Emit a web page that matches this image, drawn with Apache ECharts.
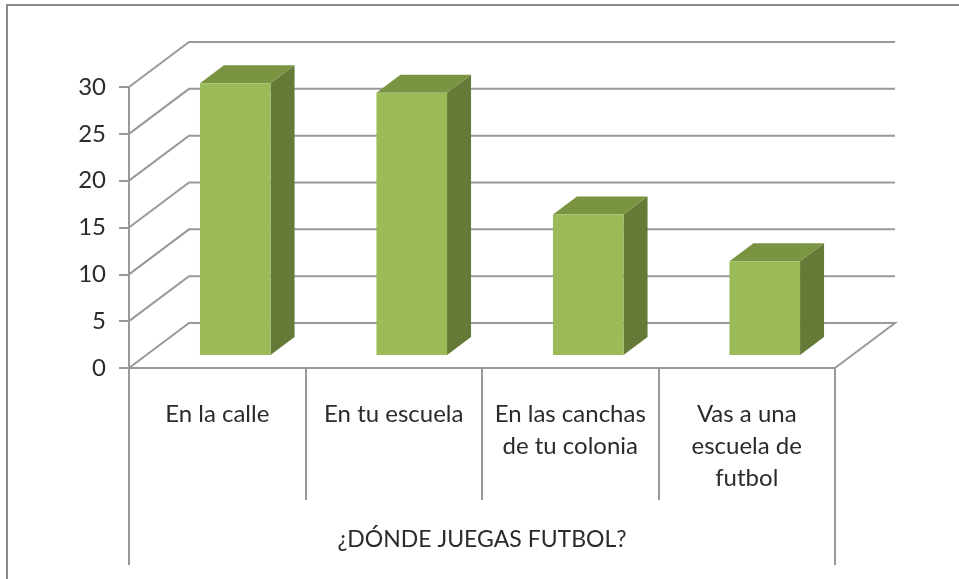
<!DOCTYPE html>
<html>
<head>
<meta charset="utf-8">
<style>html,body{margin:0;padding:0;background:#fff}#c{width:959px;height:579px}</style>
<script src="https://cdn.jsdelivr.net/npm/echarts@6/dist/echarts.min.js"></script>
</head>
<body>
<div id="c"></div>
<script>
const categories = ['En la calle', 'En tu escuela', 'En las canchas\nde tu colonia', 'Vas a una\nescuela de\nfutbol'];
const groupLabel = ['¿DÓNDE JUEGAS FUTBOL?'];
const values = [29, 28, 15, 10];
const yTicks = [0, 5, 10, 15, 20, 25, 30];

const FONT = 'Lato';
const LINE = '#999999';
const FACE = '#9BBB59', TOP = '#7A9441', SIDE = '#647A36';
const WALL_DX = 60, WALL_DY = -45;
const BAR_DX = 24, BAR_DY = -18, BAR_SHIFT_X = 18, BAR_SHIFT_Y = -13, BAR_RATIO = 0.4;

const chart = echarts.init(document.getElementById('c'), null, {renderer: 'canvas'});
chart.setOption({
  animation: false,
  backgroundColor: '#fff',
  grid: {left: 129, right: 124, top: 87, bottom: 211, containLabel: false},
  graphic: [{
    type: 'polyline', silent: true, z: 0,
    shape: {points: [[7, 579], [7, 5], [959, 5]]},
    style: {stroke: '#8a8a8a', lineWidth: 2, fill: null}
  }],
  xAxis: [{
    type: 'category', data: categories, gridIndex: 0, boundaryGap: true,
    axisLine: {show: true, lineStyle: {color: LINE, width: 2}},
    axisTick: {show: true, length: 132, lineStyle: {color: LINE, width: 2}},
    axisLabel: {interval: 0, margin: 30, color: '#2b2b2b', fontFamily: FONT, fontSize: 24, lineHeight: 32, align: 'center', verticalAlign: 'top'}
  }, {
    type: 'category', data: groupLabel, gridIndex: 0, position: 'bottom', offset: 132, boundaryGap: true,
    axisLine: {show: false},
    axisTick: {show: true, length: 65, lineStyle: {color: LINE, width: 2}},
    axisLabel: {interval: 0, margin: 28, color: '#2b2b2b', fontFamily: FONT, fontSize: 23}
  }],
  yAxis: {
    type: 'value', min: 0, max: 30, interval: 5,
    axisLine: {show: true, lineStyle: {color: LINE, width: 2}},
    axisTick: {show: true, length: 10, lineStyle: {color: LINE, width: 2}},
    axisLabel: {margin: 23, color: '#2b2b2b', fontFamily: FONT, fontSize: 24, padding: [2, 0, 0, 0]},
    splitLine: {show: false}
  },
  series: [{
    type: 'custom', name: 'walls', xAxisIndex: 0, yAxisIndex: 0, z: 1, silent: true,
    coordinateSystem: 'cartesian2d',
    data: yTicks.map(v => [0, v]),
    encode: {x: 0, y: 1},
    renderItem(params, api) {
      const v = api.value(1);
      const band = api.size([1, 0])[0];
      const p = api.coord([0, v]);
      const x0 = p[0] - band / 2, x1 = x0 + band * categories.length, y = p[1];
      const pts = [[x0, y], [x0 + WALL_DX, y + WALL_DY], [x1 + WALL_DX, y + WALL_DY]];
      if (v === 0) pts.push([x1, y]);
      return {type: 'polyline', shape: {points: pts}, style: {stroke: LINE, lineWidth: 2, fill: null}};
    }
  }, {
    type: 'custom', name: 'bars', xAxisIndex: 0, yAxisIndex: 0, z: 2, silent: true,
    coordinateSystem: 'cartesian2d',
    data: values.map((v, i) => [i, v]),
    encode: {x: 0, y: 1},
    renderItem(params, api) {
      const i = api.value(0), v = api.value(1);
      const top = api.coord([i, v]), base = api.coord([i, 0]);
      const w = api.size([1, 0])[0] * BAR_RATIO;
      const l = top[0] + BAR_SHIFT_X - w / 2, r = l + w;
      const t = top[1] + BAR_SHIFT_Y, b = base[1] + BAR_SHIFT_Y;
      return {type: 'group', children: [
        {type: 'polygon', shape: {points: [[r, t], [r + BAR_DX, t + BAR_DY], [r + BAR_DX, b + BAR_DY], [r, b]]}, style: {fill: SIDE}},
        {type: 'polygon', shape: {points: [[l, t], [l + BAR_DX, t + BAR_DY], [r + BAR_DX, t + BAR_DY], [r, t]]}, style: {fill: TOP}},
        {type: 'rect', shape: {x: l, y: t, width: w, height: b - t}, style: {fill: FACE}}
      ]};
    }
  }]
});
</script>
</body>
</html>
